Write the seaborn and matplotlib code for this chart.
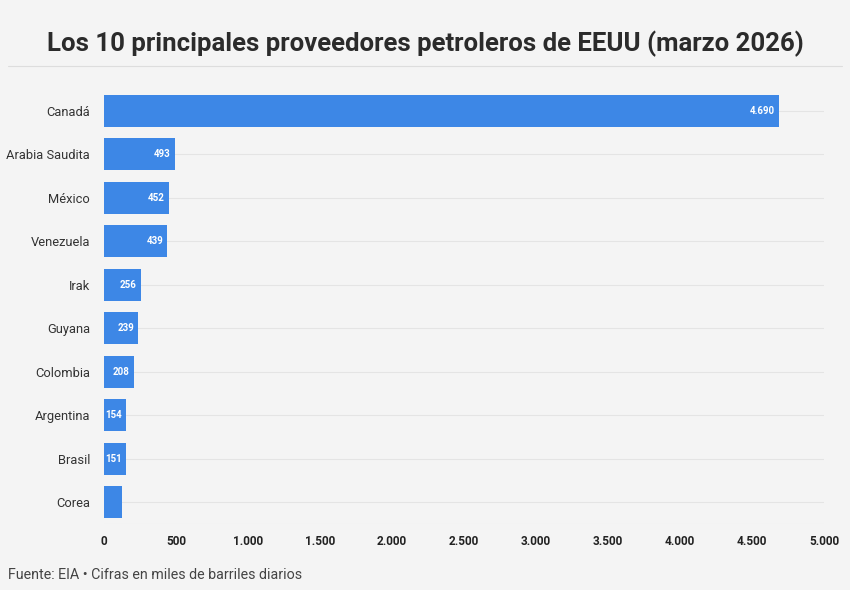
import numpy as np
import pandas as pd
import seaborn as sns
import matplotlib.pyplot as plt
from matplotlib.lines import Line2D

paises = ["Canadá", "Arabia Saudita", "México", "Venezuela", "Irak",
          "Guyana", "Colombia", "Argentina", "Brasil", "Corea"]
valores = [4690, 493, 452, 439, 256, 239, 208, 154, 151, 125]
etiquetas = ["4.690", "493", "452", "439", "256", "239", "208", "154", "151", ""]
ticks_x = [0, 500, 1000, 1500, 2000, 2500, 3000, 3500, 4000, 4500, 5000]
ticks_txt = ["0", "500", "1.000", "1.500", "2.000", "2.500", "3.000",
             "3.500", "4.000", "4.500", "5.000"]

df = pd.DataFrame({"pais": paises, "valor": valores})

bg = "#f4f4f4"
sns.set_theme(style="white")
plt.rcParams["font.family"] = ["Roboto", "DejaVu Sans"]

fig = plt.figure(figsize=(8.5, 5.9), dpi=100, facecolor=bg)
ax = fig.add_axes([104 / 850, 1 - 524 / 590, 720 / 850, (524 - 89) / 590])
ax.set_facecolor(bg)

# light horizontal guide lines at each category
for i in range(len(paises)):
    ax.axhline(i, color="#e4e4e4", lw=0.8, zorder=0)
ax.axhline(len(paises) - 0.5, color="#e4e4e4", lw=0.8, zorder=0)

sns.barplot(data=df, y="pais", x="valor", color="#3d87e6", saturation=1,
            width=0.74, linewidth=0, ax=ax, zorder=2)

for i, (v, t) in enumerate(zip(valores, etiquetas)):
    if t:
        ax.text(v - 28, i, t, ha="right", va="center", color="white",
                fontsize=7, fontweight="bold", zorder=3)

ax.set_xlim(0, 5000)
ax.set_ylim(len(paises) - 0.5, -0.5)
ax.set_xticks(ticks_x)
ax.set_xticklabels(ticks_txt, fontsize=8.5, fontweight="bold", color="#222222")
ax.tick_params(axis="y", labelsize=9.3, labelcolor="#333333", length=0, pad=10)
ax.tick_params(axis="x", length=0, pad=8)
ax.set_xlabel("")
ax.set_ylabel("")
sns.despine(ax=ax, left=True, bottom=True)

fig.text(0.5, 1 - 44 / 590, "Los 10 principales proveedores petroleros de EEUU (marzo 2026)",
         ha="center", va="center", fontsize=18.5, fontweight="bold", color="#2b2b2b")
fig.add_artist(Line2D([8 / 850, 842 / 850], [1 - 66 / 590, 1 - 66 / 590],
                      color="#dddddd", lw=0.8))
fig.text(8 / 850, 1 - 575 / 590, "Fuente: EIA • Cifras en miles de barriles diarios",
         ha="left", va="center", fontsize=10.3, color="#444444")

fig.savefig("out.png", dpi=100, facecolor=bg)
